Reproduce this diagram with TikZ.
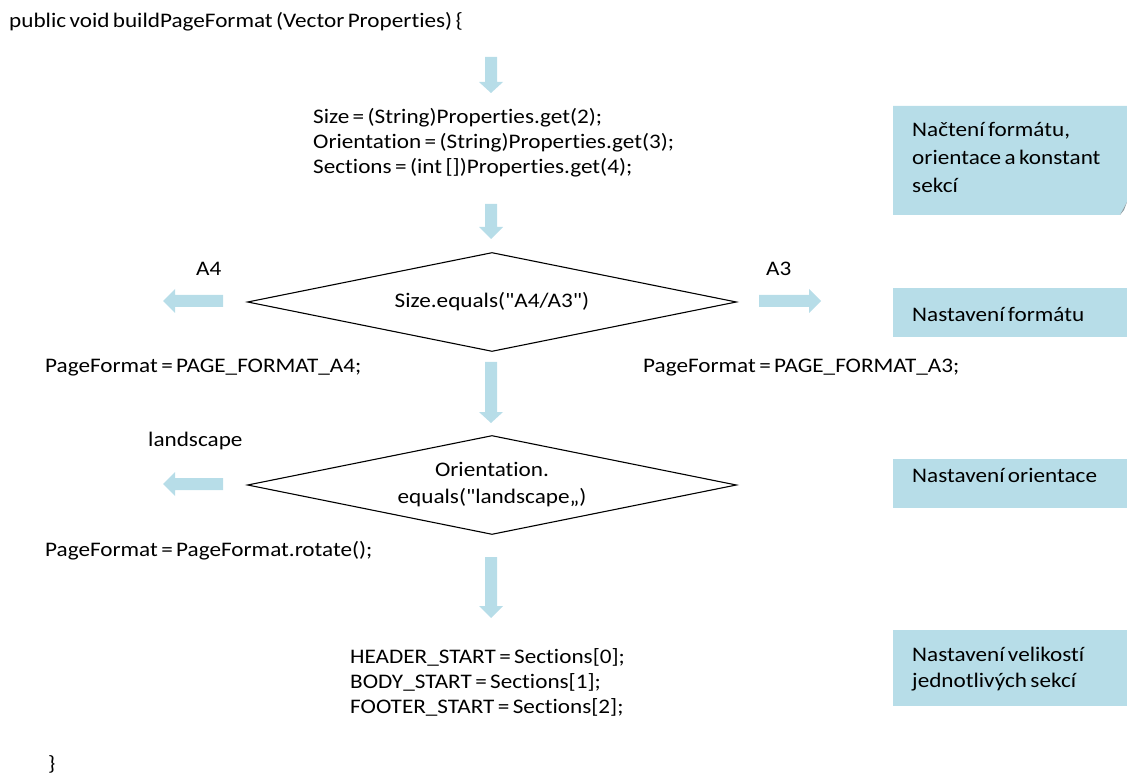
\documentclass[tikz,border=0pt]{standalone}
\usepackage{fontspec}
% Carlito, slightly widened with tight word spaces; straight quotes, no ligatures
\newfontfamily\codefont{Carlito}[Ligatures=NoCommon,FakeStretch=1.12,WordSpace=0.65]
\usetikzlibrary{shapes.geometric}
\definecolor{flowblue}{RGB}{183,221,232}
\definecolor{foldgray}{RGB}{140,155,160}
\begin{document}
\begin{tikzpicture}[x=1pt,y=-1pt,
  txt/.style={anchor=base west,inner sep=0pt,font=\codefont\fontsize{20.7}{25}\selectfont},
  notetxt/.style={anchor=base west,inner sep=0pt,align=left,font=\codefont\fontsize{20.7}{28}\selectfont},
  decision/.style={draw=black,line width=1.1pt,shape=diamond,inner sep=0pt,
    aspect=4.94,minimum width=489pt,minimum height=99pt,align=center,
    font=\codefont\fontsize{20.7}{27}\selectfont},
  flow/.style={fill=flowblue,draw=none},
  note/.style={fill=flowblue,draw=none}]
\useasboundingbox (0,0) rectangle (1127,775);

% method header and closing brace
\node[txt] (head) at (9,28) {public void buildPageFormat (Vector Properties) \{};
\node[txt] (close) at (48,770) {\}};

% block arrows of the flow
\fill[flow] (485,57) -- (497,57) -- (497,82) -- (503,82) -- (491,93) -- (479,82) -- (485,82) -- cycle;
\fill[flow] (485,204) -- (497,204) -- (497,227) -- (503,227) -- (491,239) -- (479,227) -- (485,227) -- cycle;
\fill[flow] (485,362) -- (497,362) -- (497,412) -- (503,412) -- (491,423) -- (479,412) -- (485,412) -- cycle;
\fill[flow] (485,557) -- (497,557) -- (497,606) -- (503,606) -- (491,618) -- (479,606) -- (485,606) -- cycle;
\fill[flow] (223,295) -- (223,307) -- (175,307) -- (175,313) -- (163,301) -- (175,289) -- (175,295) -- cycle;
\fill[flow] (759,295) -- (759,307) -- (809,307) -- (809,313) -- (821,301) -- (809,289) -- (809,295) -- cycle;
\fill[flow] (223,478) -- (223,490) -- (175,490) -- (175,496) -- (163,484) -- (175,472) -- (175,478) -- cycle;

% loading of the properties
\node[txt] (load1) at (313,124) {Size = (String)Properties.get(2);};
\node[txt] (load2) at (313,149) {Orientation = (String)Properties.get(3);};
\node[txt] (load3) at (313,174) {Sections = (int [])Properties.get(4);};

% format decision
\node[decision] (size) at (492,302) {Size.equals("A4/A3")};
\node[txt] (a4) at (196,276) {A4};
\node[txt] (a3) at (766,276) {A3};
\node[txt] (fa4) at (45,373) {PageFormat = PAGE\_FORMAT\_A4;};
\node[txt] (fa3) at (643,373) {PageFormat = PAGE\_FORMAT\_A3;};

% orientation decision
\node[decision] (orient) at (492,485) {Orientation.\\equals("landscape„)};
\node[txt] (land) at (148,446) {landscape};
\node[txt] (rot) at (45,556) {PageFormat = PageFormat.rotate();};

% section constants
\node[txt] (sec1) at (350,663) {HEADER\_START = Sections[0];};
\node[txt] (sec2) at (350,688) {BODY\_START = Sections[1];};
\node[txt] (sec3) at (350,713) {FOOTER\_START = Sections[2];};

% side notes (multi-line texts are placed by their last baseline)
\fill[note] (893,106) -- (1127,106) -- (1127,202) -- (1120,215) -- (893,215) -- cycle;
\fill[foldgray] (1120,215) -- (1127,202) -- (1124,210) -- cycle;
\node[notetxt] (n1) at (912,193) {Načtení formátu,\\orientace a konstant\\sekcí};

\fill[note] (893,288) rectangle (1127,337);
\node[notetxt] (n2) at (912,322) {Nastavení formátu};

\fill[note] (893,459) rectangle (1127,508);
\node[notetxt] (n3) at (912,482) {Nastavení orientace};

\fill[note] (893,630) rectangle (1127,706);
\node[notetxt,font=\codefont\fontsize{20.7}{26}\selectfont] (n4) at (912,687) {Nastavení velikostí\\jednotlivých sekcí};
\end{tikzpicture}
\end{document}
